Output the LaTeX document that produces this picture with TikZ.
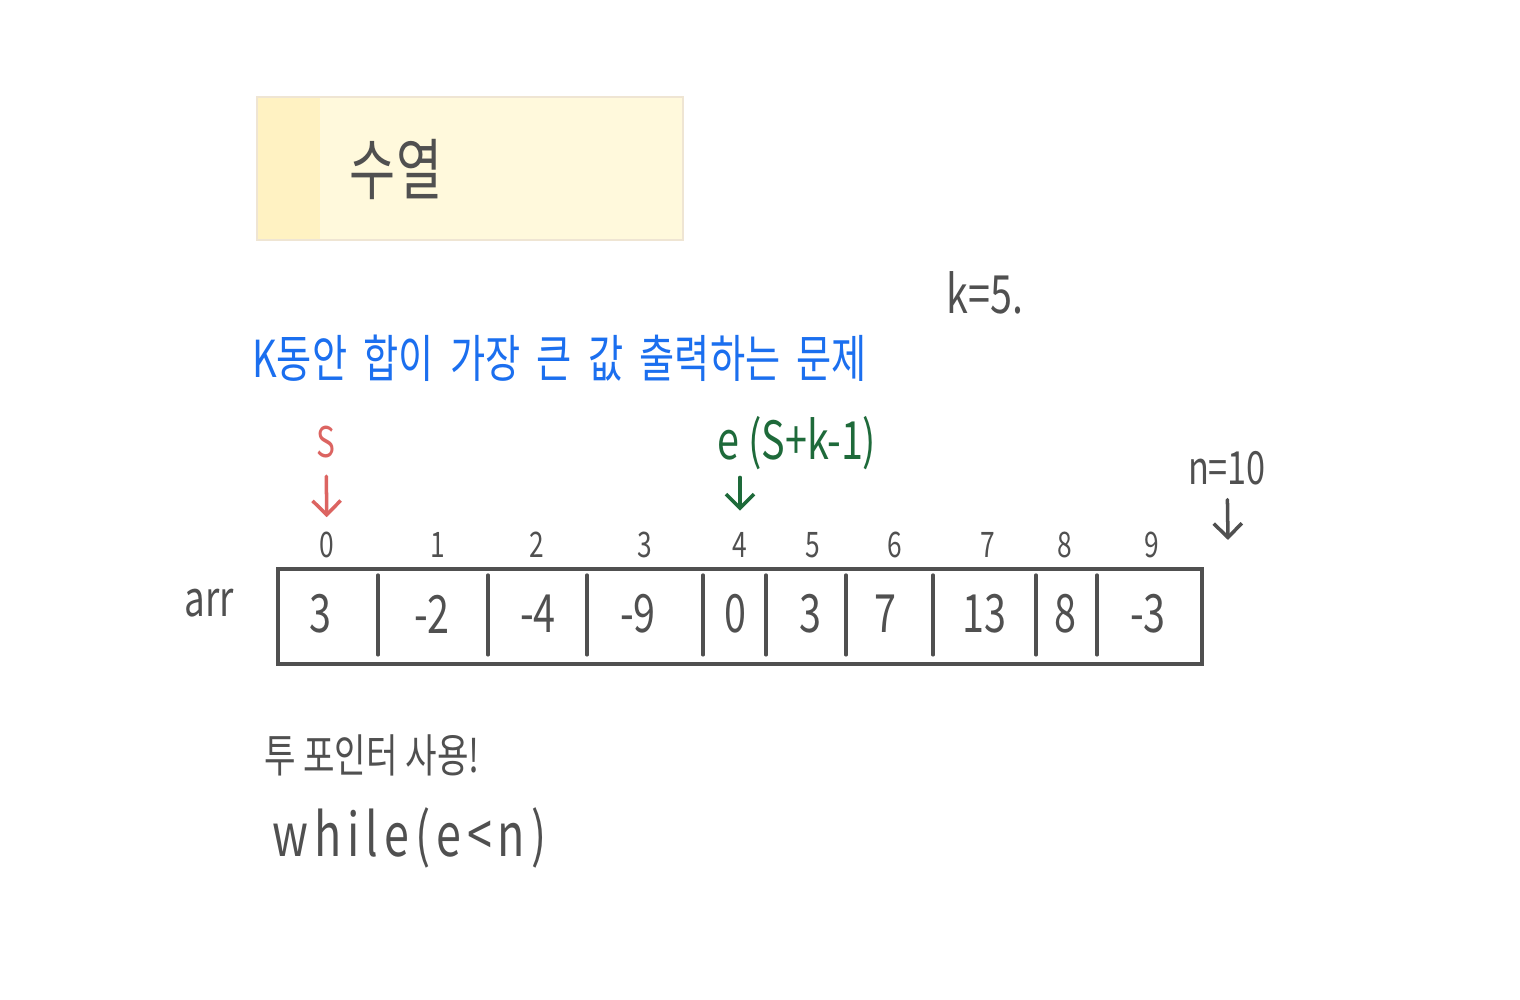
\documentclass[tikz,border=0pt]{standalone}
\usepackage{fontspec}
\setmainfont{Noto Sans CJK KR}[FakeStretch=0.75]
\usetikzlibrary{arrows.meta}

\definecolor{ink}{HTML}{505050}
\definecolor{noteblue}{HTML}{1B6FEF}
\definecolor{sred}{HTML}{DC6461}
\definecolor{egreen}{HTML}{1E6A3A}
\definecolor{memo}{HTML}{FFF9DC}
\definecolor{memotab}{HTML}{FFF2C2}
\definecolor{memoedge}{HTML}{EFE5D3}

\newcommand\widewords{\spaceskip=0.32em\relax}

\tikzset{
  pen/.style={line width=1pt,line cap=round,draw=ink},
  hand/.style={text=ink,inner sep=1pt},
}

\begin{document}
\begin{tikzpicture}[>={Straight Barb[length=4pt,width=8pt]}]
  \useasboundingbox [fill=white] (0,0) rectangle (15.2,10);

  \path [fill=memo,draw=memoedge,line width=0.6pt] (2.57,7.60) rectangle (6.83,9.03);
  \path [fill=memotab] (2.58,7.61) rectangle (3.20,9.02);
  \node [hand,font=\fontsize{19}{19}\selectfont] (title) at (3.96,8.30) {수열};

  \node [hand,font=\fontsize{15}{15}\selectfont] (klbl) at (9.85,7.07) {k=5.};
  \node [hand,text=noteblue,anchor=west,font=\fontsize{14.5}{15}\selectfont] (goal) at (2.48,6.42) {\widewords K동안 합이 가장 큰 값 출력하는 문제};

  \foreach \i/\x in {0/3.27,1/4.38,2/5.37,3/6.45,4/7.40,5/8.13,6/8.95,7/9.88,8/10.65,9/11.52}
    \node [hand,font=\fontsize{10}{10}\selectfont] (i\i) at (\x,4.55) {\i};

  \node [hand,text=sred,font=\fontsize{12}{12}\selectfont] (slbl) at (3.26,5.58) {S};
  \node [hand,text=egreen,font=\fontsize{15}{15}\selectfont] (elbl) at (7.97,5.57) {e (S+k-1)};
  \node [hand,font=\fontsize{13}{13}\selectfont] (nlbl) at (12.27,5.32) {n=10};
  \coordinate (nend) at (12.28,4.60);

  \draw [->,pen,draw=sred,shorten <=4pt,shorten >=3pt] (slbl) -- (i0);
  \draw [->,pen,draw=egreen,shorten <=1pt,shorten >=5pt] (elbl.south -| i4) -- (i4);
  \draw [->,pen,shorten <=3pt] (nlbl) -- (nend);

  \draw [pen,line width=1.2pt,line cap=butt] (2.78,3.36) rectangle (12.02,4.31);
  \foreach \x in {3.78,4.88,5.87,7.03,7.66,8.46,9.33,10.36,10.97}
    \draw [pen,line width=0.9pt] (\x,4.25) -- (\x,3.45);
  \foreach \x/\v/\n in {3.20/3/0,4.32/-2/1,5.38/-4/2,6.38/-9/3,7.35/0/4,8.10/3/5,8.85/7/6,9.84/13/7,10.65/8/8,11.48/-3/9}
    \node [hand,font=\fontsize{15}{15}\selectfont] (v\n) at (\x,3.86) {\v};
  \node [hand,font=\fontsize{14}{14}\selectfont] (arr) at (2.09,3.97) {arr};

  \node [hand,anchor=west,font=\fontsize{13}{13}\selectfont] (note) at (2.60,2.45) {투 포인터 사용!};
  \node [hand,anchor=west,font=\fontsize{17}{17}\selectfont\addfontfeature{LetterSpace=10}] (loop) at (2.68,1.62) {while(e<n)};
\end{tikzpicture}
\end{document}
